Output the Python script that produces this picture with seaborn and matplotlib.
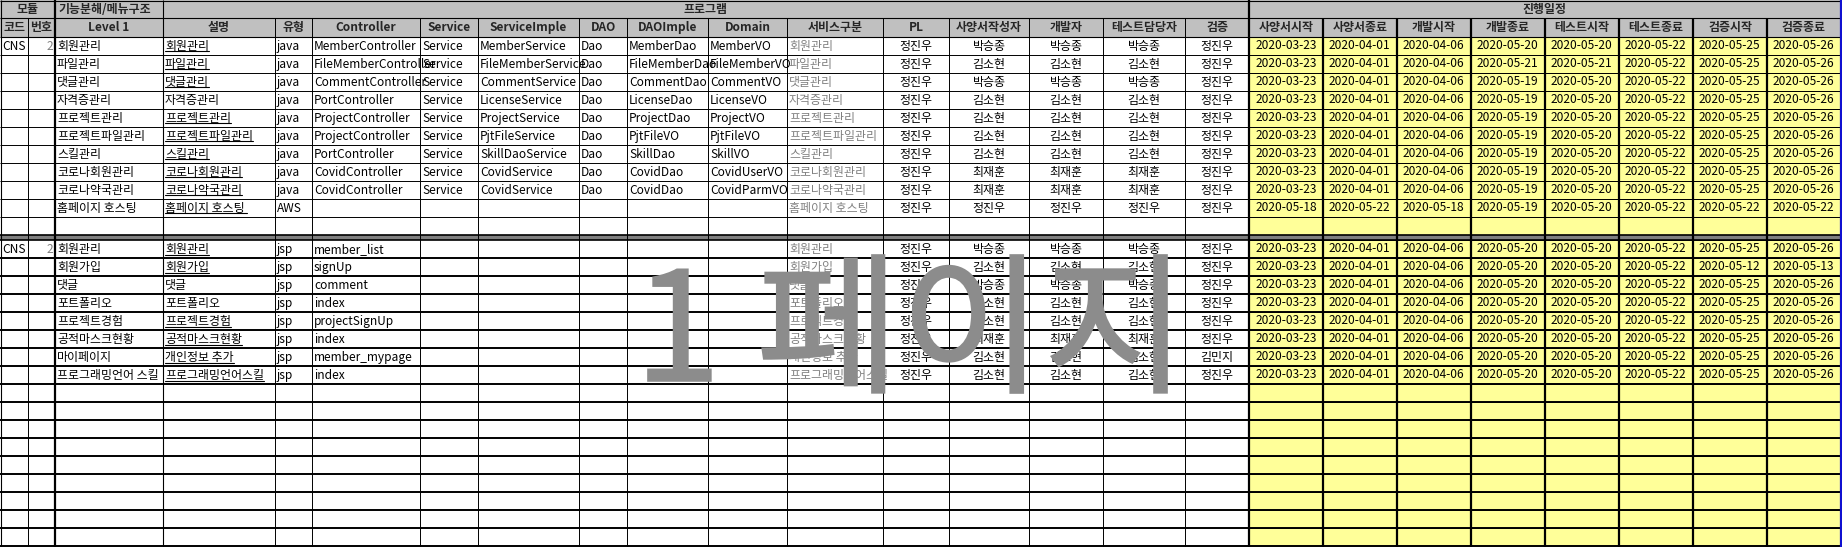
import numpy as np
import pandas as pd
import seaborn as sns
import matplotlib.pyplot as plt
from matplotlib.colors import ListedColormap
from matplotlib.patches import Rectangle, PathPatch
from matplotlib.textpath import TextPath
from matplotlib.font_manager import FontProperties
from matplotlib.transforms import Affine2D

sns.set_theme(style="white")
plt.rcParams['font.family'] = ['Noto Sans CJK KR', 'DejaVu Sans']

# header texts
group_headers = ["모듈", "기능분해/메뉴구조", "프로그램", "진행일정"]
col_headers = ["코드", "번호", "Level 1", "설명", "유형", "Controller", "Service",
               "ServiceImple", "DAO", "DAOImple", "Domain", "서비스구분", "PL",
               "사양서작성자", "개발자", "테스트담당자", "검증"]
date_headers = ["사양서시작", "사양서종료", "개발시작", "개발종료",
                "테스트시작", "테스트종료", "검증시작", "검증종료"]

# ---- section 1 (java) ----
code_1 = ["CNS", "", "", "", "", "", "", "", "", ""]
num_1 = ["2", "", "", "", "", "", "", "", "", ""]
level1_1 = ["회원관리", "파일관리", "댓글관리", "자격증관리", "프로젝트관리", "프로젝트파일관리",
            "스킬관리", "코로나회원관리", "코로나약국관리", "홈페이지 호스팅"]
desc_1 = ["회원관리", "파일관리", "댓글관리", "자격증관리", "프로젝트관리", "프로젝트파일관리",
          "스킬관리", "코로나회원관리", "코로나약국관리", "홈페이지 호스팅 "]
desc_ul_1 = [True, True, True, False, True, True, True, True, True, True]
type_1 = ["java", "java", "java", "java", "java", "java", "java", "java", "java", "AWS"]
controller_1 = ["MemberController", "FileMemberController", "CommentController", "PortController",
                "ProjectController", "ProjectController", "PortController", "CovidController",
                "CovidController", ""]
service_1 = ["Service", "Service", "Service", "Service", "Service", "Service", "Service",
             "Service", "Service", ""]
serviceimpl_1 = ["MemberService", "FileMemberService", "CommentService", "LicenseService",
                 "ProjectService", "PjtFileService", "SkillDaoService", "CovidService",
                 "CovidService", ""]
dao_1 = ["Dao", "Dao", "Dao", "Dao", "Dao", "Dao", "Dao", "Dao", "Dao", ""]
daoimpl_1 = ["MemberDao", "FileMemberDao", "CommentDao", "LicenseDao", "ProjectDao",
             "PjtFileVO", "SkillDao", "CovidDao", "CovidDao", ""]
domain_1 = ["MemberVO", "FileMemberVO", "CommentVO", "LicenseVO", "ProjectVO", "PjtFileVO",
            "SkillVO", "CovidUserVO", "CovidParmVO", ""]
svc_1 = ["회원관리", "파일관리", "댓글관리", "자격증관리", "프로젝트관리", "프로젝트파일관리",
         "스킬관리", "코로나회원관리", "코로나약국관리", "홈페이지 호스팅"]
pl_1 = ["정진우", "정진우", "정진우", "정진우", "정진우", "정진우", "정진우", "정진우", "정진우", "정진우"]
writer_1 = ["박승종", "김소현", "박승종", "김소현", "김소현", "김소현", "김소현", "최재훈", "최재훈", "정진우"]
dev_1 = ["박승종", "김소현", "박승종", "김소현", "김소현", "김소현", "김소현", "최재훈", "최재훈", "정진우"]
tester_1 = ["박승종", "김소현", "박승종", "김소현", "김소현", "김소현", "김소현", "최재훈", "최재훈", "정진우"]
verify_1 = ["정진우", "정진우", "정진우", "정진우", "정진우", "정진우", "정진우", "정진우", "정진우", "정진우"]

spec_start_1 = ["2020-03-23", "2020-03-23", "2020-03-23", "2020-03-23", "2020-03-23",
                "2020-03-23", "2020-03-23", "2020-03-23", "2020-03-23", "2020-05-18"]
spec_end_1 = ["2020-04-01", "2020-04-01", "2020-04-01", "2020-04-01", "2020-04-01",
              "2020-04-01", "2020-04-01", "2020-04-01", "2020-04-01", "2020-05-22"]
dev_start_1 = ["2020-04-06", "2020-04-06", "2020-04-06", "2020-04-06", "2020-04-06",
               "2020-04-06", "2020-04-06", "2020-04-06", "2020-04-06", "2020-05-18"]
dev_end_1 = ["2020-05-20", "2020-05-21", "2020-05-19", "2020-05-19", "2020-05-19",
             "2020-05-19", "2020-05-19", "2020-05-19", "2020-05-19", "2020-05-19"]
test_start_1 = ["2020-05-20", "2020-05-21", "2020-05-20", "2020-05-20", "2020-05-20",
                "2020-05-20", "2020-05-20", "2020-05-20", "2020-05-20", "2020-05-20"]
test_end_1 = ["2020-05-22", "2020-05-22", "2020-05-22", "2020-05-22", "2020-05-22",
              "2020-05-22", "2020-05-22", "2020-05-22", "2020-05-22", "2020-05-22"]
ver_start_1 = ["2020-05-25", "2020-05-25", "2020-05-25", "2020-05-25", "2020-05-25",
               "2020-05-25", "2020-05-25", "2020-05-25", "2020-05-25", "2020-05-22"]
ver_end_1 = ["2020-05-26", "2020-05-26", "2020-05-26", "2020-05-26", "2020-05-26",
             "2020-05-26", "2020-05-26", "2020-05-26", "2020-05-26", "2020-05-22"]

# ---- section 2 (jsp) ----
code_2 = ["CNS", "", "", "", "", "", "", ""]
num_2 = ["2", "", "", "", "", "", "", ""]
level1_2 = ["회원관리", "회원가입", "댓글", "포트폴리오", "프로젝트경험", "공적마스크현황",
            "마이페이지", "프로그래밍언어 스킬"]
desc_2 = ["회원관리", "회원가입", "댓글", "포트폴리오", "프로젝트경험", "공적마스크현황",
          "개인정보 추가", "프로그래밍언어스킬"]
desc_ul_2 = [True, True, False, False, True, True, True, True]
type_2 = ["jsp", "jsp", "jsp", "jsp", "jsp", "jsp", "jsp", "jsp"]
controller_2 = ["member_list", "signUp", "comment", "index", "projectSignUp", "index",
                "member_mypage", "index"]
empty_2 = ["", "", "", "", "", "", "", ""]
svc_2 = ["회원관리", "회원가입", "댓글", "포트폴리오", "프로젝트경험", "공적마스크현황",
         "개인정보 추가", "프로그래밍언어스킬"]
pl_2 = ["정진우", "정진우", "정진우", "정진우", "정진우", "정진우", "정진우", "정진우"]
writer_2 = ["박승종", "김소현", "박승종", "김소현", "김소현", "최재훈", "김소현", "김소현"]
dev_2 = ["박승종", "김소현", "박승종", "김소현", "김소현", "최재훈", "김소현", "김소현"]
tester_2 = ["박승종", "김소현", "박승종", "김소현", "김소현", "최재훈", "김소현", "김소현"]
verify_2 = ["정진우", "정진우", "정진우", "정진우", "정진우", "정진우", "김민지", "정진우"]

spec_start_2 = ["2020-03-23", "2020-03-23", "2020-03-23", "2020-03-23",
                "2020-03-23", "2020-03-23", "2020-03-23", "2020-03-23"]
spec_end_2 = ["2020-04-01", "2020-04-01", "2020-04-01", "2020-04-01",
              "2020-04-01", "2020-04-01", "2020-04-01", "2020-04-01"]
dev_start_2 = ["2020-04-06", "2020-04-06", "2020-04-06", "2020-04-06",
               "2020-04-06", "2020-04-06", "2020-04-06", "2020-04-06"]
dev_end_2 = ["2020-05-20", "2020-05-20", "2020-05-20", "2020-05-20",
             "2020-05-20", "2020-05-20", "2020-05-20", "2020-05-20"]
test_start_2 = ["2020-05-20", "2020-05-20", "2020-05-20", "2020-05-20",
                "2020-05-20", "2020-05-20", "2020-05-20", "2020-05-20"]
test_end_2 = ["2020-05-22", "2020-05-22", "2020-05-22", "2020-05-22",
              "2020-05-22", "2020-05-22", "2020-05-22", "2020-05-22"]
ver_start_2 = ["2020-05-25", "2020-05-12", "2020-05-25", "2020-05-25",
               "2020-05-25", "2020-05-25", "2020-05-25", "2020-05-25"]
ver_end_2 = ["2020-05-26", "2020-05-13", "2020-05-26", "2020-05-26",
             "2020-05-26", "2020-05-26", "2020-05-26", "2020-05-26"]

watermark = "1 페이지"

# tables
sec1 = pd.DataFrame(dict(zip(col_headers, [code_1, num_1, level1_1, desc_1, type_1, controller_1,
                                           service_1, serviceimpl_1, dao_1, daoimpl_1, domain_1,
                                           svc_1, pl_1, writer_1, dev_1, tester_1, verify_1])))
sec2 = pd.DataFrame(dict(zip(col_headers, [code_2, num_2, level1_2, desc_2, type_2, controller_2,
                                           empty_2, empty_2, empty_2, empty_2, empty_2,
                                           svc_2, pl_2, writer_2, dev_2, tester_2, verify_2])))
dates1 = pd.DataFrame(dict(zip(date_headers, [spec_start_1, spec_end_1, dev_start_1, dev_end_1,
                                              test_start_1, test_end_1, ver_start_1, ver_end_1])))
dates2 = pd.DataFrame(dict(zip(date_headers, [spec_start_2, spec_end_2, dev_start_2, dev_end_2,
                                              test_start_2, test_end_2, ver_start_2, ver_end_2])))

# layout (pixels)
W, H = 1842, 547
col_x = [0, 28, 55, 163, 275, 312, 420, 478, 579, 627, 708, 787, 883, 949, 1029, 1103, 1185, 1249]
date_x = [1249, 1323, 1397, 1471, 1545, 1619, 1693, 1767, 1840]
align = ["left", "right", "left", "left", "left", "left", "left", "left", "left", "left",
         "left", "left", "center", "center", "center", "center", "center"]
gray_cols = ["번호", "서비스구분"]
RH = 18
HDR1, HDR2 = 18.3, 36.7
TOP_ROWS, BOT_ROWS = 11, 17
TOP_Y = HDR2
SEP_Y0 = TOP_Y + RH * TOP_ROWS
BOT_Y = SEP_Y0 + 5.3
FS = 8.6
WM_BOX = (648, 1167, 255, 393)   # watermark ink box: x0, x1, top, bottom

fig = plt.figure(figsize=(W / 100, H / 100), dpi=100)
fig.patch.set_facecolor("white")


def fig_box(x0, x1, y0, y1):
    return [x0 / W, 1 - y1 / H, (x1 - x0) / W, (y1 - y0) / H]


# yellow schedule blocks as seaborn heatmaps
yellow = ListedColormap(["#FFFF99"])
for dates, y0, nrows in [(dates1, TOP_Y, TOP_ROWS), (dates2, BOT_Y, BOT_ROWS)]:
    hax = fig.add_axes(fig_box(date_x[0], date_x[-1], y0, y0 + RH * nrows))
    annot = np.full((nrows, len(date_headers)), "", dtype=object)
    annot[:len(dates)] = dates.values
    sns.heatmap(np.zeros((nrows, len(date_headers))), ax=hax, cmap=yellow, vmin=0, vmax=1,
                cbar=False, annot=annot, fmt="", annot_kws={"fontsize": FS, "color": "black"},
                linewidths=0.7, linecolor="black", xticklabels=False, yticklabels=False)

# overlay for everything else
ax = fig.add_axes([0, 0, 1, 1])
ax.set_xlim(0, W)
ax.set_ylim(H, 0)
ax.axis("off")

# header backgrounds and separator
ax.add_patch(Rectangle((0, 0), date_x[-1], HDR2, fc="#C0C0C0", ec="none", zorder=0))
ax.add_patch(Rectangle((0, SEP_Y0), date_x[-1], BOT_Y - SEP_Y0, fc="#808080", ec="none", zorder=0))

# horizontal lines
ax.hlines([0.5, HDR1, HDR2], 0, date_x[-1], color="black", lw=0.8)
top_lines = [TOP_Y + RH * i for i in range(1, TOP_ROWS)]
ax.hlines(top_lines, 0, date_x[0], color="black", lw=0.7)
ax.hlines([SEP_Y0, BOT_Y], 0, date_x[-1], color="black", lw=1.2)
bot_lines = [BOT_Y + RH * i for i in range(1, BOT_ROWS + 1)]
ax.hlines(bot_lines, 0, date_x[-1], color="black", lw=1.4)

# vertical lines
ax.vlines([0.5, 163], 0, H, color="black", lw=0.8)
ax.vlines([c for c in col_x if c not in (0, 55, 163, 1249)], HDR1, H, color="black", lw=0.7)
ax.vlines([55, 1249], 0, H, color="black", lw=1.6)
ax.vlines(date_x[1:-1], HDR1, H, color="black", lw=1.6)
ax.vlines([1841], 0, H, color="#1010D0", lw=1.6)

# header texts
ax.text(27.5, HDR1 / 2, group_headers[0], ha="center", va="center", fontsize=FS, fontweight="bold")
ax.text(58, HDR1 / 2, group_headers[1], ha="left", va="center", fontsize=FS, fontweight="bold")
ax.text((163 + 1249) / 2, HDR1 / 2, group_headers[2], ha="center", va="center", fontsize=FS,
        fontweight="bold")
ax.text((date_x[0] + date_x[-1]) / 2, HDR1 / 2, group_headers[3], ha="center", va="center",
        fontsize=FS, fontweight="bold")
hy = (HDR1 + HDR2) / 2
for j, name in enumerate(col_headers):
    ax.text((col_x[j] + col_x[j + 1]) / 2, hy, name, ha="center", va="center", fontsize=FS,
            fontweight="bold")
for j, name in enumerate(date_headers):
    ax.text((date_x[j] + date_x[j + 1]) / 2, hy, name, ha="center", va="center", fontsize=FS,
            fontweight="bold")

# cell texts
underlined = []
for df, y0, ul in [(sec1, TOP_Y, desc_ul_1), (sec2, BOT_Y, desc_ul_2)]:
    for i in range(len(df)):
        yc = y0 + RH * i + RH / 2 + 0.5
        for j, name in enumerate(col_headers):
            val = df.iloc[i, j]
            if val == "":
                continue
            x0, x1 = col_x[j], col_x[j + 1]
            if align[j] == "left":
                x = x0 + 2
            elif align[j] == "right":
                x = x1 - 2
            else:
                x = (x0 + x1) / 2
            color = "#808080" if name in gray_cols else "black"
            t = ax.text(x, yc, val, ha=align[j], va="center", fontsize=FS, color=color)
            t.set_clip_path(Rectangle((x0, y0 + RH * i), x1 - x0, RH, transform=ax.transData))
            if name == "설명" and ul[i]:
                underlined.append(t)

# watermark, stretched to the box it fills in the sheet
wm_path = TextPath((0, 0), watermark, size=1, prop=FontProperties(family="Noto Sans CJK KR"))
ext = wm_path.get_extents()
sx = (WM_BOX[1] - WM_BOX[0]) / ext.width
sy = (WM_BOX[3] - WM_BOX[2]) / ext.height
wm_tr = Affine2D().translate(-ext.x0, -ext.y0).scale(sx, -sy).translate(WM_BOX[0], WM_BOX[3])
ax.add_patch(PathPatch(wm_tr.transform_path(wm_path), fc="#8C8C8C", ec="#8C8C8C", lw=1.2,
                       zorder=10))

# underlines under 설명 cells
fig.canvas.draw()
r = fig.canvas.get_renderer()
inv = ax.transData.inverted()
for t in underlined:
    bb = t.get_window_extent(r)
    (xa, ya), (xb, yb) = inv.transform([[bb.x0, bb.y0], [bb.x1, bb.y1]])
    ax.plot([xa, xb], [ya - 1.5, ya - 1.5], color="black", lw=0.8)

fig.savefig("out.png", dpi=100)
